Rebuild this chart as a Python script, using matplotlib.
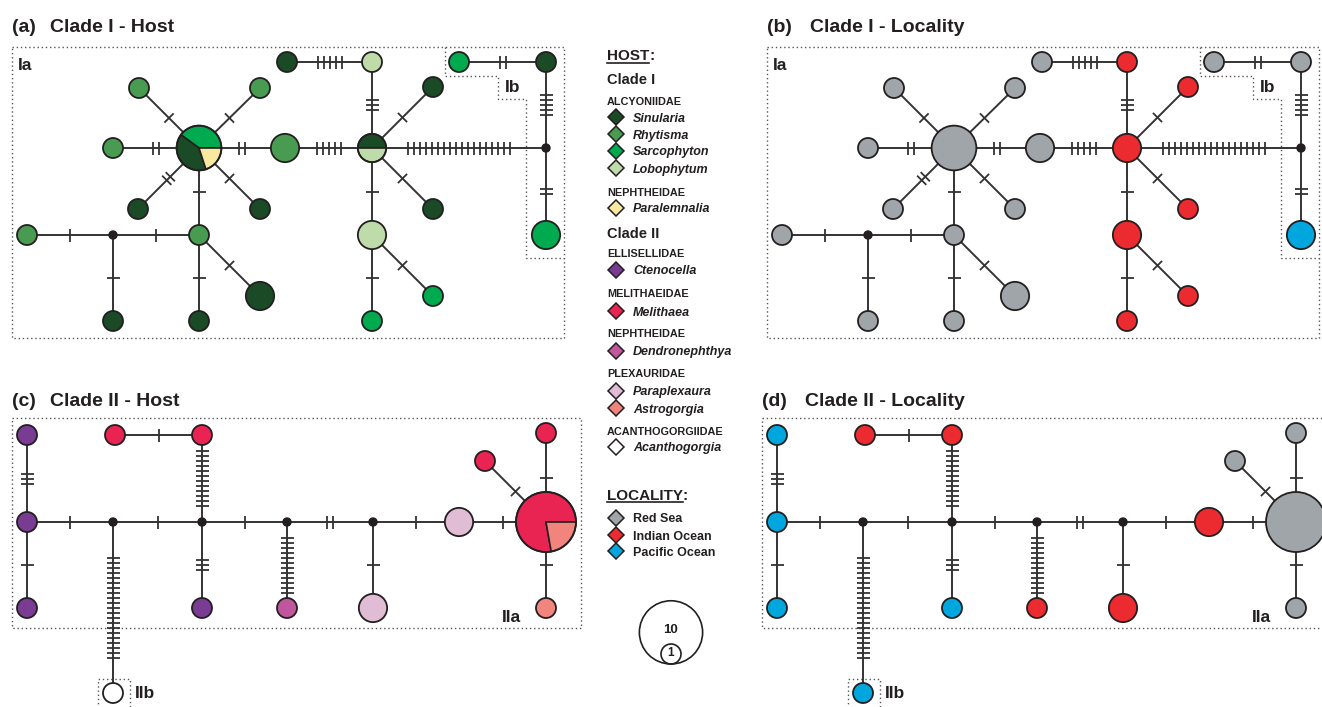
import numpy as np
import matplotlib.pyplot as plt
from matplotlib.patches import Circle, Wedge
from matplotlib.collections import LineCollection

plt.rcParams['font.family'] = ['Liberation Sans', 'DejaVu Sans']

W, H = 1322, 707
INK = '#231f20'

host_colours = {
    'Sinularia': '#1b4a27', 'Rhytisma': '#4a9b52', 'Sarcophyton': '#00aa4f',
    'Lobophytum': '#bedba9', 'Paralemnalia': '#f8e9a1', 'Ctenocella': '#7a3b93',
    'Melithaea': '#e92452', 'Dendronephthya': '#c0579c', 'Paraplexaura': '#e0bcd5',
    'Astrogorgia': '#f1847d', 'Acanthogorgia': '#ffffff',
}
loc_colours = {'Red Sea': '#a0a5aa', 'Indian Ocean': '#ec2b30', 'Pacific Ocean': '#00a7df'}

# ---- clade I haplotypes (positions in panel a, pixels) ----
clade1_x = [287, 372, 139, 260, 113, 199, 285, 372, 433, 433, 138, 260,
            27, 199, 372, 260, 433, 113, 199, 372, 459, 546, 546]
clade1_y = [62, 62, 88, 88, 148, 148, 148, 148, 87, 209, 209, 209,
            235, 235, 235, 296, 296, 321, 321, 321, 62, 62, 235]
clade1_host = [
    {'Sinularia': 1}, {'Lobophytum': 1}, {'Rhytisma': 1}, {'Rhytisma': 1}, {'Rhytisma': 1},
    {'Sarcophyton': 2, 'Sinularia': 2, 'Paralemnalia': 1}, {'Rhytisma': 2},
    {'Sinularia': 1, 'Lobophytum': 1}, {'Sinularia': 1}, {'Sinularia': 1},
    {'Sinularia': 1}, {'Sinularia': 1}, {'Rhytisma': 1}, {'Rhytisma': 1},
    {'Lobophytum': 2}, {'Sinularia': 2}, {'Sarcophyton': 1}, {'Sinularia': 1},
    {'Sinularia': 1}, {'Sarcophyton': 1}, {'Sarcophyton': 1}, {'Sinularia': 1},
    {'Sarcophyton': 2},
]
clade1_loc = [
    {'Red Sea': 1}, {'Indian Ocean': 1}, {'Red Sea': 1}, {'Red Sea': 1}, {'Red Sea': 1},
    {'Red Sea': 5}, {'Red Sea': 2}, {'Indian Ocean': 2}, {'Indian Ocean': 1},
    {'Indian Ocean': 1}, {'Red Sea': 1}, {'Red Sea': 1}, {'Red Sea': 1}, {'Red Sea': 1},
    {'Indian Ocean': 2}, {'Red Sea': 2}, {'Indian Ocean': 1}, {'Red Sea': 1},
    {'Red Sea': 1}, {'Indian Ocean': 1}, {'Red Sea': 1}, {'Red Sea': 1},
    {'Pacific Ocean': 2},
]
clade1_mv_x = [113, 546]   # median vectors, ids 23, 24
clade1_mv_y = [235, 148]
# (from, to, mutation steps)
clade1_edges = [(0, 1, 5), (1, 7, 3), (6, 7, 5), (7, 24, 18), (7, 8, 1), (7, 9, 1),
                (7, 14, 1), (14, 16, 1), (14, 19, 1), (5, 2, 1), (5, 3, 1), (5, 4, 2),
                (5, 6, 2), (5, 10, 2), (5, 11, 1), (5, 13, 1), (13, 23, 1), (23, 12, 1),
                (23, 17, 1), (13, 18, 1), (13, 15, 1), (20, 21, 2), (21, 24, 5), (24, 22, 2)]

# ---- clade II haplotypes (positions in panel c, pixels) ----
clade2_x = [27, 115, 202, 27, 27, 202, 287, 373, 459, 546, 485, 546, 546, 113]
clade2_y = [435, 435, 435, 522, 608, 608, 608, 608, 522, 522, 461, 433, 608, 693]
clade2_host = [
    {'Ctenocella': 1}, {'Melithaea': 1}, {'Melithaea': 1}, {'Ctenocella': 1},
    {'Ctenocella': 1}, {'Ctenocella': 1}, {'Dendronephthya': 1}, {'Paraplexaura': 2},
    {'Paraplexaura': 2}, {'Melithaea': 7, 'Astrogorgia': 2}, {'Melithaea': 1},
    {'Melithaea': 1}, {'Astrogorgia': 1}, {'Acanthogorgia': 1},
]
clade2_loc = [
    {'Pacific Ocean': 1}, {'Indian Ocean': 1}, {'Indian Ocean': 1}, {'Pacific Ocean': 1},
    {'Pacific Ocean': 1}, {'Pacific Ocean': 1}, {'Indian Ocean': 1}, {'Indian Ocean': 2},
    {'Indian Ocean': 2}, {'Red Sea': 9}, {'Red Sea': 1}, {'Red Sea': 1}, {'Red Sea': 1},
    {'Pacific Ocean': 1},
]
clade2_mv_x = [113, 202, 287, 373]   # ids 14..17
clade2_mv_y = [522, 522, 522, 522]
clade2_edges = [(0, 3, 3), (3, 4, 1), (3, 14, 1), (14, 15, 1), (14, 13, 21), (1, 2, 1),
                (2, 15, 12), (15, 5, 3), (15, 16, 1), (16, 6, 12), (16, 17, 2), (17, 8, 1),
                (17, 7, 1), (8, 9, 1), (9, 10, 1), (9, 11, 1), (9, 12, 1)]


def radius(n):
    return 10 * np.sqrt(n)


def draw_network(ax, xs, ys, groups, colours, mv_x, mv_y, edges, dx):
    px = np.array(list(xs) + list(mv_x), float) + dx
    py = np.array(list(ys) + list(mv_y), float)
    lines, ticks = [], []
    for a, b, k in edges:
        p = np.array([px[a], py[a]]); q = np.array([px[b], py[b]])
        lines.append([p, q])
        u = (q - p) / np.linalg.norm(q - p)
        v = np.array([-u[1], u[0]])
        step = 6 if abs(u[1]) < 1e-6 else 5
        m = (p + q) / 2
        for i in range(k):
            c = m + (i - (k - 1) / 2) * step * u
            ticks.append([c - 6.5 * v, c + 6.5 * v])
    ax.add_collection(LineCollection(lines, colors='#333333', lw=1.4, zorder=1))
    ax.add_collection(LineCollection(ticks, colors='#333333', lw=1.3, zorder=2))
    for i, counts in enumerate(groups):
        n = sum(counts.values())
        r = radius(n)
        x, y = px[i], py[i]
        if len(counts) == 1:
            name = list(counts)[0]
            ax.add_patch(Circle((x, y), r, fc=colours[name], ec=INK, lw=1.3, zorder=3))
        else:
            start = 0
            for name, v in counts.items():
                ext = 360 * v / n
                ax.add_patch(Wedge((x, y), r, -(start + ext), -start, fc=colours[name],
                                   ec=INK, lw=1.2, zorder=3))
                start += ext
            ax.add_patch(Circle((x, y), r, fill=False, ec=INK, lw=1.3, zorder=4))
    for j in range(len(mv_x)):
        ax.add_patch(Circle((px[len(xs) + j], py[len(xs) + j]), 4, fc=INK, ec=INK, zorder=3))


def dotted(ax, xs, ys):
    ax.plot(xs, ys, ls=(0, (1, 2)), color='#555555', lw=1.0, zorder=0)


fig = plt.figure(figsize=(W / 100, H / 100), dpi=100)
ax = fig.add_axes([0, 0, 1, 1])
ax.set_xlim(0, W)
ax.set_ylim(H, 0)
ax.axis('off')

bold = dict(fontweight='bold', color=INK)

for dx, groups, colours, tag, title, tx in [
        (0, clade1_host, host_colours, '(a)', 'Clade I - Host', 50),
        (755, clade1_loc, loc_colours, '(b)', 'Clade I - Locality', 810)]:
    draw_network(ax, clade1_x, clade1_y, groups, colours, clade1_mv_x, clade1_mv_y,
                 clade1_edges, dx)
    ax.text(12 + dx, 32, tag, fontsize=14, va='baseline', **bold)
    ax.text(tx, 32, title, fontsize=14, va='baseline', **bold)
    dotted(ax, np.array([12, 564, 564, 12, 12]) + dx, [47, 47, 338, 338, 47])
    dotted(ax, np.array([445, 445, 498, 498, 526, 526, 564]) + dx,
           [47, 76, 76, 99, 99, 258, 258])
    ax.text(18 + dx, 66, 'Ia', fontsize=12.5, va='center', **bold)
    ax.text(505 + dx, 88, 'Ib', fontsize=12.5, va='center', **bold)

for dx, groups, colours, tag, title, tx in [
        (0, clade2_host, host_colours, '(c)', 'Clade II - Host', 50),
        (750, clade2_loc, loc_colours, '(d)', 'Clade II - Locality', 805)]:
    draw_network(ax, clade2_x, clade2_y, groups, colours, clade2_mv_x, clade2_mv_y,
                 clade2_edges, dx)
    ax.text(12 + dx, 406, tag, fontsize=14, va='baseline', **bold)
    ax.text(tx, 406, title, fontsize=14, va='baseline', **bold)
    dotted(ax, np.array([12, 581, 581, 12, 12]) + dx, [418, 418, 628, 628, 418])
    dotted(ax, np.array([98, 98, 130, 130]) + dx, [712, 679, 679, 712])
    ax.text(502 + dx, 618, 'IIa', fontsize=12.5, va='center', **bold)
    ax.text(135 + dx, 694, 'IIb', fontsize=12.5, va='center', **bold)

# ---- legend ----
legend_rows = [
    ('head', 'HOST', 55), ('clade', 'Clade I', 78), ('family', 'ALCYONIIDAE', 101),
    ('taxon', 'Sinularia', 117), ('taxon', 'Rhytisma', 134), ('taxon', 'Sarcophyton', 151),
    ('taxon', 'Lobophytum', 168), ('family', 'NEPHTHEIDAE', 192), ('taxon', 'Paralemnalia', 208),
    ('clade', 'Clade II', 232), ('family', 'ELLISELLIDAE', 253), ('taxon', 'Ctenocella', 270),
    ('family', 'MELITHAEIDAE', 293), ('taxon', 'Melithaea', 311), ('family', 'NEPHTHEIDAE', 333),
    ('taxon', 'Dendronephthya', 351), ('family', 'PLEXAURIDAE', 373),
    ('taxon', 'Paraplexaura', 391), ('taxon', 'Astrogorgia', 408),
    ('family', 'ACANTHOGORGIIDAE', 431), ('taxon', 'Acanthogorgia', 447),
    ('head', 'LOCALITY', 494), ('loc', 'Red Sea', 518), ('loc', 'Indian Ocean', 535),
    ('loc', 'Pacific Ocean', 551),
]
lx = 607
for kind, label, y in legend_rows:
    if kind == 'head':
        t = ax.text(lx, y, label, fontsize=11, va='center_baseline', **bold)
        fig.canvas.draw()
        bb = t.get_window_extent().transformed(ax.transData.inverted())
        ax.text(bb.x1, y, ':', fontsize=11, va='center_baseline', **bold)
        ax.plot([lx, bb.x1], [y + 7.5, y + 7.5], color=INK, lw=1.2)
    elif kind == 'clade':
        ax.text(lx, y, label, fontsize=10.5, va='center_baseline', **bold)
    elif kind == 'family':
        ax.text(lx, y, label, fontsize=7.8, va='center_baseline', **bold)
    else:
        col = host_colours[label] if kind == 'taxon' else loc_colours[label]
        ax.plot(615.5, y, marker='D', ms=8.6, mfc=col, mec=INK, mew=1.1)
        ax.text(633, y, label, fontsize=9, va='center_baseline',
                fontstyle='italic' if kind == 'taxon' else 'normal', **bold)

# size key
size_key = [10, 1]
base_y = 664
for n in size_key:
    r = radius(n)
    ax.add_patch(Circle((671, base_y - r), r, fill=False, ec=INK, lw=1.2))
ax.text(671, base_y - 34, '10', fontsize=9.5, ha='center', va='center', **bold)
ax.text(671, base_y - 10.5, '1', fontsize=8.5, ha='center', va='center', **bold)

fig.savefig('out.png', dpi=100)
